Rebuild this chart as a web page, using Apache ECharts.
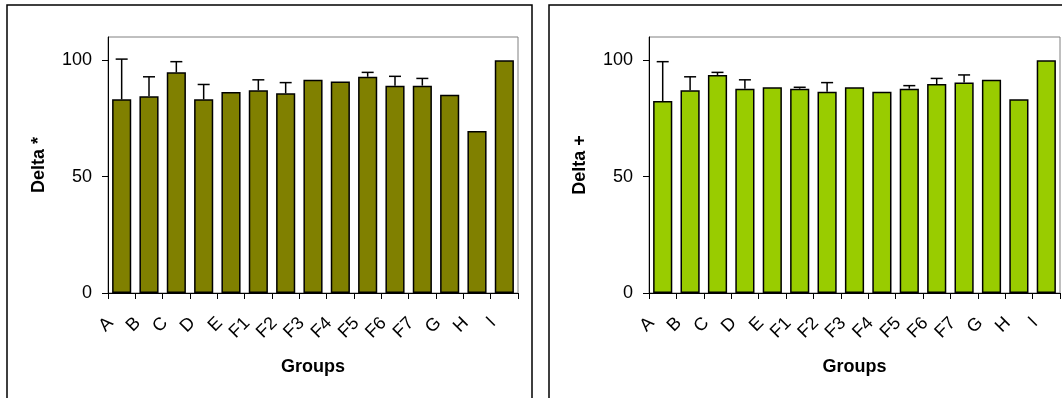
<!DOCTYPE html>
<html><head><meta charset="utf-8">
<script src="https://cdn.jsdelivr.net/npm/echarts@6/dist/echarts.min.js"></script>
<style>html,body{margin:0;padding:0;background:#fff}#c{width:1062px;height:398px}</style>
</head><body><div id="c"></div>
<script>
const categories = ['A','B','C','D','E','F1','F2','F3','F4','F5','F6','F7','G','H','I'];
const deltaStar    = [83.2, 84.5, 94.8, 83.2, 86.4, 87.1, 85.8, 91.6, 90.9, 92.9, 89.1, 89.1, 85.2, 69.6, 100];
const deltaStarErr = [17.3, 8.4, 4.6, 6.4, 0, 4.5, 4.6, 0, 0, 1.9, 4.0, 3.1, 0, 0, 0];
const deltaPlus    = [82.5, 87.1, 93.7, 87.8, 88.4, 87.8, 86.5, 88.4, 86.5, 87.8, 89.8, 90.4, 91.6, 83.2, 100];
const deltaPlusErr = [16.9, 5.8, 1.1, 3.8, 0, 0.6, 3.9, 0, 0, 1.3, 2.4, 3.3, 0, 0, 0];
const yTicks = [0, 50, 100];

const FONT = "'Liberation Sans', Arial, sans-serif";
const chart = echarts.init(document.getElementById('c'));

function errRender(params, api) {
  const i = api.value(0), v = api.value(1), hi = api.value(2);
  if (!(hi > v)) return;
  const p0 = api.coord([i, v]);
  const p1 = api.coord([i, hi]);
  const hw = 6;
  return {type: 'group', children: [
    {type: 'line', shape: {x1: p0[0], y1: p0[1], x2: p1[0], y2: p1[1]}, style: {stroke: '#000', lineWidth: 1.5}},
    {type: 'line', shape: {x1: p1[0] - hw, y1: p1[1], x2: p1[0] + hw, y2: p1[1]}, style: {stroke: '#000', lineWidth: 1.5}}
  ]};
}
function errData(vals, errs) { return vals.map((v, i) => [i, v, v + errs[i]]); }

function xAxis(idx) {
  return {
    type: 'category', gridIndex: idx, data: categories,
    name: 'Groups', nameLocation: 'middle', nameGap: 65,
    nameTextStyle: {fontFamily: FONT, fontSize: 18, fontWeight: 'bold', color: '#000'},
    axisLine: {lineStyle: {color: '#000', width: 1}},
    axisTick: {show: true, length: 6, lineStyle: {color: '#000'}},
    axisLabel: {rotate: 45, interval: 0, margin: 16, padding: [0, 16, 0, 0], fontFamily: FONT, fontSize: 18, color: '#000'}
  };
}
function yAxis(idx, name) {
  return {
    type: 'value', gridIndex: idx, min: 0, max: 110, interval: 50,
    name: name, nameLocation: 'middle', nameGap: 60, nameRotate: 90,
    nameTextStyle: {fontFamily: FONT, fontSize: 18, fontWeight: 'bold', color: '#000'},
    axisLine: {show: true, lineStyle: {color: '#000', width: 1}},
    axisTick: {show: true, length: 6, lineStyle: {color: '#000'}, customValues: yTicks},
    axisLabel: {margin: 16, fontFamily: FONT, fontSize: 18, color: '#000', customValues: yTicks},
    splitLine: {show: false}
  };
}

chart.setOption({
  animation: false,
  backgroundColor: '#fff',
  graphic: [
    {type: 'rect', shape: {x: 7, y: 5, width: 525, height: 500}, style: {fill: 'none', stroke: '#000', lineWidth: 1.5}},
    {type: 'rect', shape: {x: 549, y: 5, width: 600, height: 500}, style: {fill: 'none', stroke: '#000', lineWidth: 1.5}}
  ],
  grid: [
    {left: 108, top: 37, width: 410, height: 256, show: true, borderColor: '#808080', borderWidth: 1},
    {left: 649, top: 37, width: 411, height: 256, show: true, borderColor: '#808080', borderWidth: 1}
  ],
  xAxis: [xAxis(0), xAxis(1)],
  yAxis: [yAxis(0, 'Delta *'), yAxis(1, 'Delta +')],
  series: [
    {type: 'bar', xAxisIndex: 0, yAxisIndex: 0, data: deltaStar, barCategoryGap: '30%',
     itemStyle: {color: '#808000', borderColor: '#000', borderWidth: 1.5}},
    {type: 'custom', xAxisIndex: 0, yAxisIndex: 0, data: errData(deltaStar, deltaStarErr),
     renderItem: errRender, encode: {x: 0, y: [1, 2]}, z: 5},
    {type: 'bar', xAxisIndex: 1, yAxisIndex: 1, data: deltaPlus, barCategoryGap: '30%',
     itemStyle: {color: '#99CC00', borderColor: '#000', borderWidth: 1.5}},
    {type: 'custom', xAxisIndex: 1, yAxisIndex: 1, data: errData(deltaPlus, deltaPlusErr),
     renderItem: errRender, encode: {x: 0, y: [1, 2]}, z: 5}
  ]
});
</script></body></html>
